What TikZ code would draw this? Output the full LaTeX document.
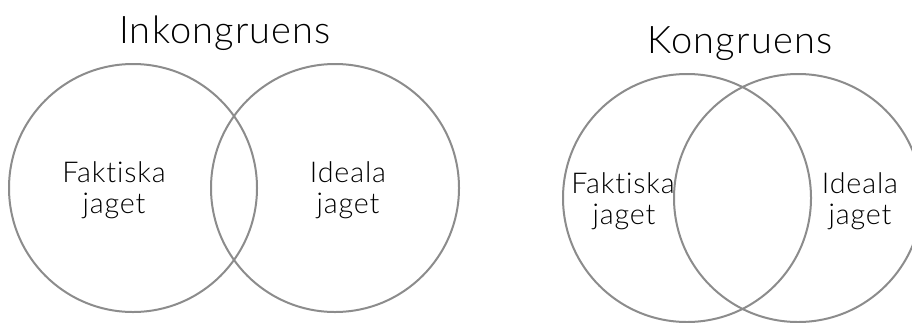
\documentclass[tikz,border=0pt]{standalone}
\usepackage{fontspec}
\setmainfont{Lato Light}[Ligatures={NoCommon},LetterSpace=3]
\begin{document}
\begin{tikzpicture}[x=0.75pt,y=-0.75pt,
  ring/.style={draw=black!45,line width=1.5pt},
  title/.style={font=\fontsize{28.5}{32}\selectfont,anchor=base,inner sep=0pt},
  label/.style={font=\fontsize{21.5}{25}\selectfont,anchor=base,inner sep=0pt}]
\useasboundingbox (0,0) rectangle (912,322);
\clip (0,0) rectangle (912,322);
\fill[white] (0,0) rectangle (912,322);
% incongruent self: barely overlapping sets
\node[title] (t1) at (225,43) {Inkongruens};
\draw[ring] (133,188) circle[radius=124];
\draw[ring] (335,188) circle[radius=124];
\node[label] (f1) at (114,182) {Faktiska};
\node[label] (f2) at (114,213) {jaget};
\node[label] (i1) at (348,182) {Ideala};
\node[label] (i2) at (348,213) {jaget};
% congruent self: large overlap
\node[title] (t2) at (740,53) {Kongruens};
\draw[ring] (687,198) circle[radius=124];
\draw[ring] (798,198) circle[radius=124];
\node[label] (f3) at (623,193) {Faktiska};
\node[label] (f4) at (624,224) {jaget};
\node[label] (i3) at (860,193) {Ideala};
\node[label] (i4) at (860,224) {jaget};
\end{tikzpicture}
\end{document}
